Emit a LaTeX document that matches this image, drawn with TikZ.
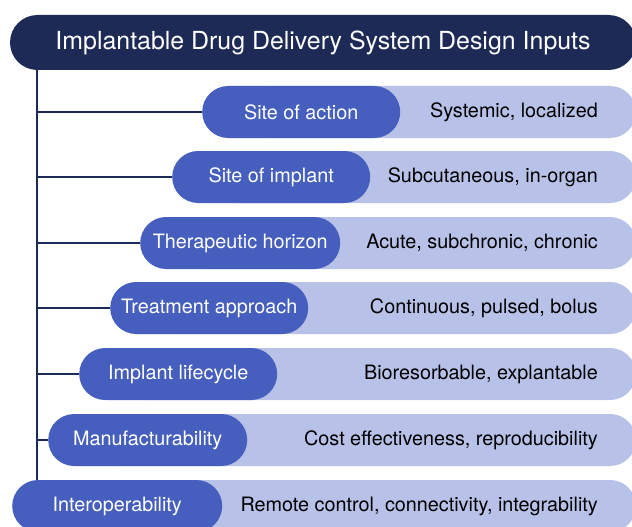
\documentclass[tikz,border=0pt]{standalone}
\usepackage{fontspec}
\setmainfont{TeX Gyre Heros}
\usetikzlibrary{shapes.misc}
\definecolor{navy}{HTML}{1E2A56}
\definecolor{pillblue}{HTML}{465EBE}
\definecolor{lightblue}{HTML}{B8C1E7}
\tikzset{
  titlebar/.style={rounded rectangle, fill=navy, text=white, minimum height=55pt, inner sep=0pt, font=\fontsize{24.9}{28}\selectfont},
  pill/.style={rounded rectangle, fill=pillblue, text=white, minimum height=52pt, inner sep=0pt, anchor=west, font=\fontsize{19.8}{23}\selectfont},
  valtext/.style={anchor=east, text=black, inner sep=0pt, font=\fontsize{19.8}{23}\selectfont},
  lightbar/.style={fill=lightblue, rounded corners=26pt},
  link/.style={draw=navy, line width=2.5pt}
}
\begin{document}
\begin{tikzpicture}[x=1pt,y=-1pt]
\useasboundingbox (0,0) rectangle (632,527);
\clip (0,0) rectangle (632,527);
% title
\node[titlebar, minimum width=626pt] (title) at (323,42.5) {Implantable Drug Delivery System Design Inputs};
% light bars
\fill[lightbar] (240,86) rectangle (636,138);
\fill[lightbar] (210,151) rectangle (636,203);
\fill[lightbar] (180,217) rectangle (636,269);
\fill[lightbar] (150,282) rectangle (636,334);
\fill[lightbar] (120,348) rectangle (636,400);
\fill[lightbar] (90,414) rectangle (636,466);
\fill[lightbar] (60,480) rectangle (636,532);
% spine
\coordinate (top) at (37,70);
\coordinate (bot) at (37,481);
\draw[link] (top) -- (bot);
% pills
\node[pill, minimum width=198pt] (p1) at (202,112) {Site of action};
\node[pill, minimum width=198pt] (p2) at (172,177) {Site of implant};
\node[pill, minimum width=200pt] (p3) at (140,243) {Therapeutic horizon};
\node[pill, minimum width=198pt] (p4) at (110,308) {Treatment approach};
\node[pill, minimum width=198pt] (p5) at (79,374) {Implant lifecycle};
\node[pill, minimum width=199pt] (p6) at (48,440) {Manufacturability};
\node[pill, minimum width=210pt] (p7) at (12,506) {Interoperability};
% values
\node[valtext] (v1) at (598,112) {Systemic, localized};
\node[valtext] (v2) at (598,177) {Subcutaneous, in-organ};
\node[valtext] (v3) at (598,243) {Acute, subchronic, chronic};
\node[valtext] (v4) at (598,308) {Continuous, pulsed, bolus};
\node[valtext] (v5) at (598,374) {Bioresorbable, explantable};
\node[valtext] (v6) at (598,440) {Cost effectiveness, reproducibility};
\node[valtext] (v7) at (598,506) {Remote control, connectivity, integrability};
% connectors
\foreach \i in {1,...,6}{
  \draw[link] (top |- p\i.west) -- (p\i.west);
}
\end{tikzpicture}
\end{document}
